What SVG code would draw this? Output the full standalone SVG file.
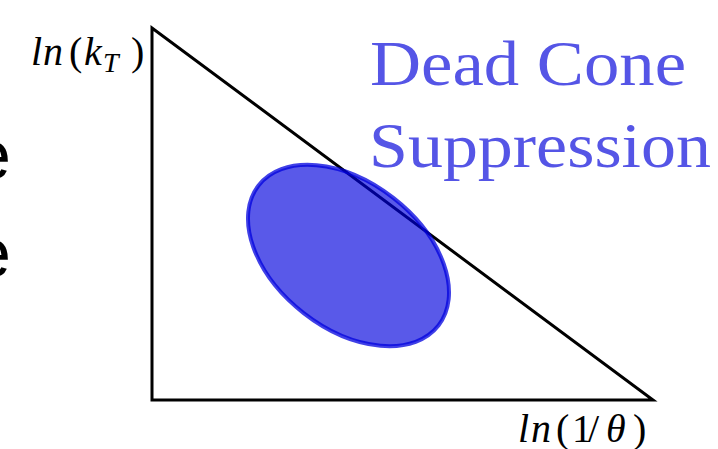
<svg xmlns="http://www.w3.org/2000/svg" width="718" height="449" viewBox="0 0 718 449">
<style>
.frag{font-family:"Liberation Sans",Arial,sans-serif;font-size:71px;fill:#000}
.math{font-family:"Times New Roman","Liberation Serif","DejaVu Serif",serif;font-size:40px;fill:#000}
.sub{font-size:28px}
.it{font-style:italic}
.blue{font-family:"Times New Roman","Liberation Serif","DejaVu Serif",serif;font-size:64px;fill:#5555e6}
.edge{fill:none;stroke:#000;stroke-width:3}
.blob{fill:#0000dd;fill-opacity:0.65;stroke:#0000dd;stroke-opacity:0.75;stroke-width:4}
</style>
<rect width="718" height="449" fill="#fff"/>
<g id="fragments">
<text class="frag" x="11" y="179" text-anchor="end">e</text>
<text class="frag" x="11" y="277" text-anchor="end">e</text>
</g>
<g id="axes">
<polygon class="edge" points="152,28 152,400 653,400"/>
</g>
<g id="region">
<ellipse class="blob" cx="348.5" cy="255.5" rx="114" ry="73" transform="rotate(37.9 348.5 255.5)"/>
</g>
<g id="label-y">
<text class="math" y="65"><tspan class="it" x="31">l</tspan><tspan class="it" x="43">n</tspan><tspan x="69">(</tspan><tspan class="it" x="84">k</tspan><tspan class="it sub" x="103" y="72">T</tspan><tspan x="131" y="65">)</tspan></text>
</g>
<g id="label-x">
<text class="math" y="442"><tspan class="it" x="518">l</tspan><tspan class="it" x="531">n</tspan><tspan x="556">(</tspan><tspan x="572">1</tspan><tspan x="588">/</tspan><tspan class="it" x="606">&#952;</tspan><tspan x="633">)</tspan></text>
</g>
<g id="title">
<text class="blue" x="370" y="85" textLength="316" lengthAdjust="spacingAndGlyphs">Dead Cone</text>
<text class="blue" x="369" y="167" textLength="342" lengthAdjust="spacingAndGlyphs">Suppression</text>
</g>
</svg>
